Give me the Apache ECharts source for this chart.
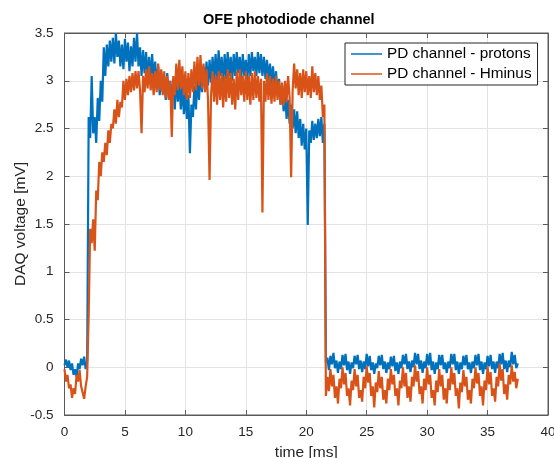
<!DOCTYPE html>
<html><head><meta charset="utf-8">
<script src="https://cdn.jsdelivr.net/npm/echarts@6/dist/echarts.min.js"></script>
<style>html,body{margin:0;padding:0;background:#fff}#c{width:554px;height:458px}</style>
</head><body><div id="c"></div>
<script>
// sampling clock of the readings (ms)
const dt = 0.125;
const preStart = 0, pulseStart = 2.0, postStart = 21.625;
const xTicks = {min: 0, max: 40, interval: 5};
const yTicks = {min: -0.5, max: 3.5, interval: 0.5};
const seriesNames = ['PD channel - protons', 'PD channel - Hminus'];

// protons (blue)
const protonsPre = [0.02, 0.08, 0.0, 0.07, -0.03, 0.04, -0.08, -0.02, -0.1, 0.04, -0.02, 0.09, 0.02, 0.11, -0.02, 0.06];
const protonsPulse = [
 2.62, 2.4, 3.05, 2.45, 2.62, 2.35, 2.82, 2.58,
 3.0, 2.78, 3.35, 3.05, 3.38, 3.15, 3.42, 3.2,
 3.45, 3.18, 3.5, 3.25, 3.42, 3.15, 3.38, 3.12,
 3.44, 3.2, 3.4, 3.1, 3.36, 3.15, 3.45, 3.2,
 3.5, 3.15, 3.35, 3.05, 3.32, 3.08, 3.3, 3.0,
 3.25, 3.02, 3.28, 3.0, 3.2, 2.95, 3.15, 2.85,
 3.1, 2.88, 3.05, 2.8, 3.08, 2.82, 3.0, 2.75,
 3.02, 2.7, 3.05, 2.78, 3.0, 2.7, 2.95, 2.65,
 2.9, 2.6, 2.85, 2.24, 2.75, 2.62, 2.95, 2.7,
 3.05, 2.8, 3.1, 2.88, 3.15, 2.92, 3.2, 2.95,
 3.22, 2.98, 3.25, 3.0, 3.28, 3.0, 3.32, 3.05,
 3.25, 2.98, 3.28, 3.02, 3.3, 3.05, 3.25, 3.0,
 3.28, 3.05, 3.3, 3.08, 3.25, 3.02, 3.28, 3.05,
 3.22, 3.0, 3.28, 3.05, 3.3, 3.1, 3.25, 3.05,
 3.3, 3.08, 3.28, 3.05, 3.25, 3.02, 3.22, 3.0,
 3.18, 2.97, 3.15, 2.92, 3.1, 2.85, 3.02, 2.75,
 2.95, 2.68, 2.85, 2.6, 2.8, 2.55, 2.75, 2.5,
 2.7, 2.45, 2.68, 2.4, 2.6, 2.32, 2.55, 2.28,
 2.5, 1.49, 2.48, 2.35, 2.58, 2.38, 2.55, 2.4,
 2.6, 2.42, 2.62, 2.35, 2.55
];
const protonsPost = [
 0.05, 0.1, -0.03, 0.12, 0.03, 0.15, -0.01, 0.07,
 -0.06, 0.06, -0.02, 0.13, 0.02, 0.14, -0.03, 0.06,
 -0.07, 0.05, -0.01, 0.12, 0.03, 0.13, -0.02, 0.07,
 -0.05, 0.06, -0.02, 0.14, 0.01, 0.12, -0.03, 0.05,
 -0.07, 0.04, -0.01, 0.12, 0.02, 0.13, -0.02, 0.06,
 -0.06, 0.05, -0.02, 0.11, 0.01, 0.12, -0.04, 0.05,
 -0.07, 0.06, -0.01, 0.13, 0.03, 0.14, -0.02, 0.06,
 -0.05, 0.07, 0.0, 0.15, 0.03, 0.14, -0.02, 0.07,
 -0.06, 0.06, -0.01, 0.14, 0.02, 0.15, -0.03, 0.06,
 -0.07, 0.05, -0.02, 0.13, 0.02, 0.13, -0.02, 0.05,
 -0.06, 0.06, -0.01, 0.14, 0.03, 0.14, -0.03, 0.06,
 -0.07, 0.05, -0.02, 0.12, 0.02, 0.13, -0.02, 0.05,
 -0.06, 0.06, -0.01, 0.13, 0.02, 0.14, -0.03, 0.06,
 -0.07, 0.05, -0.02, 0.12, 0.01, 0.13, -0.02, 0.06,
 -0.06, 0.06, -0.01, 0.14, 0.03, 0.15, -0.02, 0.07,
 -0.05, 0.07, 0.0, 0.16, 0.03, 0.13, -0.01, 0.04
];

// Hminus (orange)
const hminusPre = [-0.02, -0.15, -0.08, -0.22, -0.18, -0.32, -0.22, -0.28, -0.08, -0.15, -0.03, -0.2, -0.18, -0.33, -0.2, -0.1];
const hminusPulse = [
 0.55, 1.45, 1.3, 1.55, 1.22, 1.85, 1.75, 2.15,
 2.0, 2.25, 2.15, 2.35, 2.22, 2.48, 2.35, 2.55,
 2.5, 2.7, 2.55, 2.8, 2.62, 2.78, 2.72, 3.0,
 2.8, 3.02, 2.85, 3.05, 2.88, 3.08, 2.9, 3.1,
 2.92, 3.1, 2.9, 2.45, 3.05, 2.88, 3.12, 2.92,
 3.15, 2.9, 3.08, 2.85, 3.1, 2.88, 3.18, 2.9,
 3.12, 2.85, 3.1, 2.82, 3.05, 2.8, 3.0, 2.41,
 3.05, 2.85, 3.18, 2.9, 3.22, 2.92, 3.15, 2.85,
 3.1, 2.8, 3.08, 2.82, 3.12, 2.88, 3.2, 2.9,
 3.25, 2.95, 3.27, 2.92, 3.18, 2.88, 3.12, 2.8,
 1.96, 2.85, 3.1, 2.78, 3.05, 2.75, 3.1, 2.8,
 3.08, 2.72, 3.05, 2.78, 3.12, 2.82, 3.08, 2.75,
 3.02, 2.7, 3.1, 2.8, 3.12, 2.85, 3.05, 2.78,
 3.1, 2.8, 3.05, 2.75, 3.08, 2.8, 3.1, 2.82,
 3.05, 2.78, 3.02, 1.62, 3.0, 2.78, 3.08, 2.8,
 3.05, 2.76, 3.02, 2.78, 3.05, 2.8, 3.0, 2.75,
 2.98, 2.74, 3.0, 2.78, 3.05, 2.82, 1.99, 2.9,
 3.18, 2.92, 3.12, 2.85, 3.08, 2.82, 3.12, 2.88,
 3.1, 2.85, 3.05, 2.82, 3.15, 2.88, 3.08, 2.85,
 3.05, 2.8, 2.95, 2.62, 2.75
];
const hminusPost = [
 -0.3, -0.1, -0.25, -0.02, -0.2, -0.08, -0.32, -0.2,
 -0.38, -0.12, -0.22, 0.0, -0.18, -0.06, -0.3, -0.22,
 -0.4, -0.14, -0.24, -0.02, -0.2, -0.08, -0.32, -0.24,
 -0.36, -0.1, -0.22, 0.01, -0.16, -0.06, -0.3, -0.2,
 -0.42, -0.16, -0.26, -0.04, -0.22, -0.1, -0.34, -0.24,
 -0.38, -0.12, -0.24, -0.02, -0.18, -0.08, -0.3, -0.22,
 -0.4, -0.14, -0.22, 0.0, -0.2, -0.06, -0.32, -0.2,
 -0.36, -0.1, -0.2, 0.02, -0.15, -0.04, -0.28, -0.2,
 -0.38, -0.12, -0.24, 0.0, -0.18, -0.08, -0.32, -0.24,
 -0.4, -0.14, -0.26, -0.02, -0.2, -0.08, -0.34, -0.22,
 -0.38, -0.12, -0.24, 0.0, -0.18, -0.06, -0.3, -0.22,
 -0.43, -0.16, -0.26, -0.03, -0.2, -0.1, -0.34, -0.24,
 -0.38, -0.12, -0.22, 0.0, -0.17, -0.06, -0.3, -0.2,
 -0.4, -0.14, -0.24, 0.01, -0.18, -0.05, -0.3, -0.22,
 -0.36, -0.1, -0.2, 0.04, -0.14, -0.02, -0.28, -0.18,
 -0.34, -0.08, -0.18, 0.02, -0.15, -0.05, -0.22, -0.12
];

function seg(t0, vals) { return vals.map((v, i) => [t0 + i * dt, v]); }
const protonsData = [].concat(seg(preStart, protonsPre), seg(pulseStart, protonsPulse), seg(postStart, protonsPost));
const hminusData = [].concat(seg(preStart, hminusPre), seg(pulseStart, hminusPulse), seg(postStart, hminusPost));

const FONT = '"Liberation Sans", Arial, Helvetica, sans-serif';
const TXT = '#262626';
const AX = '#5a5a5a';
const chart = echarts.init(document.getElementById('c'), null, {renderer: 'canvas'});
const tickLabel = {color: TXT, fontFamily: FONT, fontSize: 13.5};
const axLine = {show: true, onZero: false, lineStyle: {color: AX}};
chart.setOption({
  animation: false,
  backgroundColor: '#fff',
  title: {text: 'OFE photodiode channel', left: 203, top: 12, padding: 0,
    textStyle: {fontFamily: FONT, fontSize: 14.5, fontWeight: 'bold', color: '#000'}},
  legend: {
    orient: 'vertical', left: 345, top: 43, padding: [3, 6, 3, 6],
    backgroundColor: '#fff', borderColor: '#262626', borderWidth: 1,
    icon: 'rect', itemWidth: 31, itemHeight: 1.5, itemGap: 4, itemTextGap: 4,
    textStyle: {fontFamily: FONT, fontSize: 15.3, color: '#000', lineHeight: 16},
    data: seriesNames
  },
  grid: {left: 64.5, right: 6, top: 33, bottom: 43, containLabel: false, outerBoundsMode: 'none',
    show: true, borderColor: AX, borderWidth: 1, backgroundColor: '#fff'},
  xAxis: [
    {type: 'value', min: xTicks.min, max: xTicks.max, interval: xTicks.interval, position: 'bottom',
     name: 'time [ms]', nameLocation: 'middle', nameGap: 30, nameMoveOverlap: false,
     nameTextStyle: {fontFamily: FONT, fontSize: 15.5, color: TXT},
     axisLine: axLine, axisTick: {inside: true, length: 5, lineStyle: {color: AX}},
     axisLabel: Object.assign({margin: 10}, tickLabel),
     splitLine: {show: true, lineStyle: {color: '#e3e3e3', width: 1}}},
    {type: 'value', min: xTicks.min, max: xTicks.max, interval: xTicks.interval, position: 'top',
     axisLine: axLine, axisTick: {inside: true, length: 5, lineStyle: {color: AX}},
     axisLabel: {show: false}, splitLine: {show: false}}
  ],
  yAxis: [
    {type: 'value', min: yTicks.min, max: yTicks.max, interval: yTicks.interval, position: 'left',
     name: 'DAQ voltage [mV]', nameLocation: 'middle', nameGap: 36, nameMoveOverlap: false,
     nameTextStyle: {fontFamily: FONT, fontSize: 15.5, color: TXT},
     axisLine: axLine, axisTick: {inside: true, length: 5, lineStyle: {color: AX}},
     axisLabel: Object.assign({margin: 11}, tickLabel),
     splitLine: {show: true, lineStyle: {color: '#e3e3e3', width: 1}}},
    {type: 'value', min: yTicks.min, max: yTicks.max, interval: yTicks.interval, position: 'right',
     axisLine: axLine, axisTick: {inside: true, length: 5, lineStyle: {color: AX}},
     axisLabel: {show: false}, splitLine: {show: false}}
  ],
  series: [
    {name: seriesNames[0], type: 'line', data: protonsData, showSymbol: false, symbol: 'none',
     color: '#0072BD', lineStyle: {width: 2.2, color: '#0072BD'}, z: 2},
    {name: seriesNames[1], type: 'line', data: hminusData, showSymbol: false, symbol: 'none',
     color: '#D95319', lineStyle: {width: 2.2, color: '#D95319'}, z: 3}
  ]
});
</script></body></html>
